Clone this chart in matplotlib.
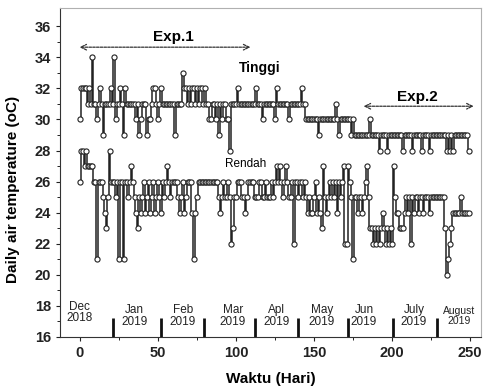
import matplotlib
matplotlib.use("Agg")
import matplotlib.pyplot as plt
import numpy as np

plt.rcParams['font.family'] = ['Liberation Sans', 'DejaVu Sans']

tinggi = [
    30, 32, 32, 32, 32, 31, 32, 31, 34, 31,
    31, 30, 31, 32, 31, 29, 31, 31, 31, 31,
    32, 31, 34, 30, 31, 31, 32, 31, 29, 32,
    31, 31, 31, 31, 31, 31, 30, 31, 29, 30,
    31, 31, 31, 29, 30, 30, 31, 32, 32, 31,
    30, 31, 32, 31, 31, 31, 31, 31, 31, 31,
    31, 29, 31, 31, 31, 31, 33, 32, 32, 31,
    32, 31, 32, 32, 31, 32, 31, 32, 32, 31,
    32, 31, 31, 30, 30, 31, 31, 30, 31, 29,
    31, 30, 31, 31, 30, 30, 28, 31, 31, 31,
    31, 32, 31, 31, 31, 31, 31, 31, 31, 31,
    31, 31, 31, 32, 31, 31, 31, 30, 31, 31,
    31, 31, 31, 31, 31, 30, 32, 31, 31, 31,
    31, 31, 31, 31, 30, 31, 31, 31, 31, 31,
    31, 31, 32, 31, 31, 30, 30, 30, 30, 30,
    30, 30, 30, 29, 30, 30, 30, 30, 30, 30,
    30, 30, 30, 30, 31, 30, 29, 30, 30, 30,
    30, 30, 30, 30, 29, 30, 29, 29, 29, 29,
    29, 29, 29, 29, 29, 29, 30, 29, 29, 29,
    29, 29, 28, 29, 29, 29, 29, 28, 29, 29,
    29, 29, 29, 29, 29, 29, 29, 28, 29, 29,
    29, 29, 29, 28, 29, 29, 29, 29, 29, 28,
    29, 29, 29, 29, 28, 29, 29, 29, 29, 29,
    29, 29, 29, 29, 29, 28, 29, 28, 29, 28,
    29, 29, 29, 29, 29, 29, 29, 29, 29, 28,
]

rendah = [
    26, 28, 28, 27, 28, 27, 27, 27, 27, 26,
    26, 21, 26, 26, 26, 25, 24, 23, 25, 28,
    26, 26, 26, 25, 26, 21, 26, 26, 21, 26,
    26, 25, 26, 27, 26, 25, 24, 23, 25, 24,
    25, 26, 24, 25, 26, 24, 25, 26, 24, 25,
    26, 25, 24, 26, 25, 26, 27, 26, 25, 26,
    26, 26, 26, 25, 24, 25, 26, 24, 25, 26,
    26, 26, 24, 21, 24, 25, 26, 26, 26, 26,
    26, 26, 26, 26, 26, 26, 26, 26, 26, 25,
    24, 25, 26, 25, 25, 26, 25, 22, 23, 25,
    25, 26, 26, 26, 25, 25, 24, 25, 26, 26,
    26, 26, 25, 25, 25, 26, 26, 25, 25, 26,
    25, 25, 25, 26, 25, 26, 27, 26, 27, 26,
    25, 26, 27, 26, 25, 25, 26, 22, 26, 26,
    25, 26, 26, 25, 26, 25, 24, 25, 24, 24,
    25, 26, 24, 25, 24, 23, 27, 25, 24, 25,
    26, 25, 26, 25, 26, 24, 26, 25, 26, 27,
    22, 22, 27, 26, 25, 21, 25, 25, 24, 25,
    25, 24, 25, 26, 27, 25, 23, 23, 22, 23,
    22, 23, 22, 23, 24, 23, 22, 23, 22, 23,
    22, 27, 25, 24, 24, 23, 23, 23, 24, 25,
    24, 25, 22, 25, 24, 25, 25, 24, 25, 25,
    24, 25, 25, 25, 24, 25, 25, 25, 25, 25,
    25, 25, 25, 25, 23, 20, 21, 22, 23, 24,
    24, 24, 24, 24, 25, 24, 24, 24, 24, 24,
]

months = ["Dec\n2018", "Jan\n2019", "Feb\n2019", "Mar\n2019", "Apl\n2019",
          "May\n2019", "Jun\n2019", "July\n2019", "August\n2019"]
month_pos = [0, 35, 66, 98, 126, 155, 182, 214, 243]
month_sep = [21, 52, 79.5, 112, 140, 171.5, 200.5, 229]

days_t = np.arange(len(tinggi))
days_r = np.arange(len(rendah))

fig = plt.figure(figsize=(4.83, 3.9), dpi=100)
ax = fig.add_axes([0.124, 0.136, 0.872, 0.843])

col = '#222222'
for d, v in ((days_t, tinggi), (days_r, rendah)):
    ax.plot(d, v, drawstyle='steps-mid', color=col, lw=1.1)
    ax.plot(d, v, ls='none', marker='o', ms=3.7, mfc='white', mec=col, mew=0.8)

ax.set_xlim(-12.8, 257)
ax.set_ylim(16, 37.16)
ax.set_xticks([0, 50, 100, 150, 200, 250])
ax.set_xticks(np.arange(25, 260, 50), minor=True)
ax.set_yticks(np.arange(16, 37, 2))
ax.set_yticks(np.arange(17, 37, 2), minor=True)
ax.tick_params(labelsize=10.5, length=3, width=0.8, colors='#222222')
ax.tick_params(which='minor', length=2)
for lab in ax.get_xticklabels() + ax.get_yticklabels():
    lab.set_fontweight('bold')

for s in ('top', 'right'):
    ax.spines[s].set_color('#b0b0b0')
for s in ('left', 'bottom'):
    ax.spines[s].set_color('#333333')

ax.set_xlabel('Waktu (Hari)', fontsize=11, fontweight='bold', labelpad=9)
ax.set_ylabel('Daily air temperature (oC)', fontsize=11, fontweight='bold')
ax.yaxis.set_label_coords(-0.095, 0.45)

# month labels and separators
for m, p in zip(months, month_pos):
    fs = 7.5 if m.startswith('August') else 8.5
    ax.text(p, 17.6 if p == 0 else 17.35, m, ha='center', va='center',
            fontsize=fs, linespacing=0.9, color='#222222')
for s in month_sep:
    ax.plot([s, s], [16, 17.2], color='#111111', lw=2, solid_capstyle='butt')

# experiment annotations
ax.annotate('', xy=(-2, 34.65), xytext=(111, 34.65),
            arrowprops=dict(arrowstyle='<->', ls=(0, (2, 1)), color='#333333', lw=0.9))
ax.text(60, 35.3, 'Exp.1', ha='center', va='center', fontsize=11, fontweight='bold')
ax.annotate('', xy=(180, 30.85), xytext=(254, 30.85),
            arrowprops=dict(arrowstyle='<->', ls=(0, (2, 1)), color='#333333', lw=0.9))
ax.text(216, 31.45, 'Exp.2', ha='center', va='center', fontsize=11, fontweight='bold')
ax.text(115, 33.3, 'Tinggi', ha='center', va='center', fontsize=10, fontweight='bold')
ax.text(106, 27.1, 'Rendah', ha='center', va='center', fontsize=8.5)

fig.savefig('out.png', dpi=100)
